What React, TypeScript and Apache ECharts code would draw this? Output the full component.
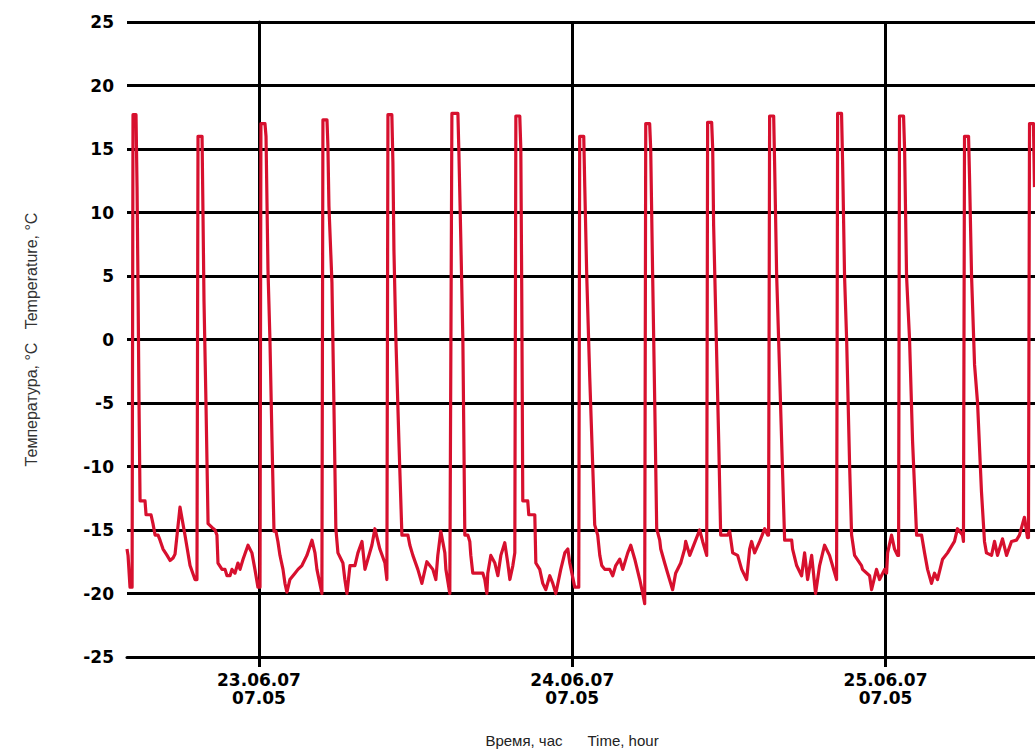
import React, { useEffect, useRef } from "react";
import * as echarts from "echarts";

// Time in hours relative to 23.06.07 07:05
const timeHours: number[] = [
  -10.11, -10.03, -9.88, -9.72, -9.65, -9.42, -9.34, -9.26, -9.19, -9.11,
  -8.73, -8.65, -8.27, -8.12, -7.96, -7.73, -7.58, -7.35, -7.04, -6.81,
  -6.58, -6.43, -6.05, -5.67, -5.28, -4.9, -4.75,
  -4.67, -4.36, -4.29, -4.21, -4.06, -3.9, -3.6, -3.37, -3.22, -3.14,
  -2.83, -2.6, -2.45, -2.22, -2.07, -1.84, -1.61, -1.45, -1.22, -0.84,
  -0.54, -0.31, -0.08, 0.08,
  0.15, 0.46, 0.54, 0.69, 0.84, 1.0, 1.15, 1.3, 1.45, 1.61,
  1.84, 1.99, 2.14, 2.37, 2.76, 2.99, 3.29, 3.67, 4.06, 4.29, 4.44, 4.82,
  4.9, 5.21, 5.28, 5.36, 5.59, 5.74, 5.89, 6.05, 6.43, 6.58,
  6.74, 6.97, 7.35, 7.58, 7.89, 8.12, 8.34, 8.65, 8.88, 9.26, 9.65, 9.8,
  9.88, 10.18, 10.26, 10.34, 10.49, 10.72, 10.95, 11.41, 11.56, 11.79,
  12.17, 12.48, 12.86, 13.32, 13.55, 13.7, 13.93, 14.24, 14.32, 14.62,
  14.78, 15.24, 15.31, 15.46, 15.62, 15.77, 16.0, 16.15, 16.23, 16.38,
  17.15, 17.3, 17.46, 17.53, 17.76, 18.07, 18.3, 18.53, 18.83, 19.06,
  19.22, 19.45, 19.6,
  19.68, 19.98, 20.06, 20.13, 20.21, 20.59, 20.67, 21.13, 21.21, 21.51,
  21.74, 21.97, 22.28, 22.51, 22.74, 23.12, 23.43, 23.66, 23.81, 24.19, 24.5,
  24.57, 24.88, 24.96, 25.11, 25.34, 25.57, 25.72, 25.95, 26.11, 26.26,
  26.49, 26.87, 27.1, 27.33, 27.64, 27.87, 28.25, 28.48, 28.79, 29.17,
  29.4, 29.55,
  29.63, 29.93, 30.01, 30.16, 30.32, 30.47, 30.7, 30.78, 31.08, 31.31,
  31.54, 31.69, 31.92, 32.31, 32.61, 32.69, 33.0, 33.38, 33.76, 33.99, 34.3,
  34.37, 34.68, 34.76, 34.83, 34.99, 35.22, 35.37, 35.91, 36.06, 36.29,
  36.67, 36.98, 37.36, 37.59, 37.74, 37.97, 38.36, 38.74, 38.97, 39.04,
  39.12, 39.43, 39.5, 39.66, 39.81, 40.04, 40.27, 40.81, 40.88, 41.19,
  41.57, 41.8, 42.03, 42.34, 42.64, 42.95, 43.33, 43.71, 44.25,
  44.33, 44.63, 44.71, 44.86, 45.02, 45.25, 45.4, 45.63, 46.16, 46.24,
  46.78, 46.93, 47.31, 47.54, 47.93, 48.08, 48.16, 48.46, 48.69, 48.92, 49.0,
  49.07, 49.38, 49.46, 49.61, 49.84, 50.07, 50.38, 50.76, 50.99, 51.22,
  51.52, 51.75, 51.98, 52.37, 52.75, 53.28, 53.51, 53.9, 53.97,
  54.05, 54.36, 54.43, 54.59, 54.82, 55.05, 55.35, 55.58, 55.73, 56.12,
  56.35, 56.58, 56.96, 57.27, 57.65, 58.03, 58.26, 58.64, 58.87, 58.95,
  59.03, 59.33, 59.41,
];

const temperature: number[] = [
  -16.5, -17, -19.5, -19.5, 17.7, 17.7, 12, 3.5, -5, -12.7,
  -12.7, -13.8, -13.8, -14.5, -15.4, -15.4, -15.8, -16.5, -17.0, -17.4,
  -17.2, -16.9, -13.2, -15.4, -17.8, -18.9, -18.9,
  16, 16, 10, 3, -5, -14.5, -14.8, -15.0, -15.4, -17.6,
  -18.1, -18.1, -18.6, -18.6, -18.1, -18.4, -17.6, -18.1, -17.3, -16.2,
  -16.8, -18.1, -19.5, -19.5,
  17, 17, 16, 5.5, 0, -8, -15.1, -15.1, -15.9, -17,
  -18.1, -19.2, -19.9, -18.9, -18.4, -18.1, -17.8, -17, -15.8, -16.8, -18.1, -20,
  17.3, 17.3, 15.3, 10.5, 4.5, -5, -14.9, -16.8, -17.6, -18.9,
  -20, -17.8, -17.8, -16.8, -15.9, -18.1, -17.3, -16.2, -14.9, -16.5, -17.6, -18.9,
  17.7, 17.7, 14, 7, 0, -8, -15.4, -15.4, -16.2, -17,
  -18.1, -19.2, -17.5, -18.1, -18.9, -17, -15.1, -16.8, -18.1, -20,
  17.8, 17.8, 15, 8, 0, -15.4, -15.4, -15.9, -17, -18.4,
  -18.4, -18.9, -20, -18.4, -17, -17.6, -18.6, -17, -16, -17.6,
  -18.9, -17.8, -16.8,
  17.6, 17.6, 15, 4, -12.7, -12.7, -13.8, -13.8, -17.6, -18.1,
  -19.2, -19.7, -18.6, -19.2, -20, -18.1, -16.8, -16.5, -17.6, -19.5, -19.5,
  16, 16, 12, 5, -3, -10, -14.6, -15.4, -17, -17.8,
  -18.1, -18.1, -18.6, -17.8, -17.3, -18.1, -16.8, -16.2, -17.3, -18.9,
  -20, -20.8,
  17, 17, 15, 5, -5, -14.9, -15.8, -16.5, -17.6, -18.4,
  -19.2, -19.7, -18.4, -17.6, -16.5, -15.9, -17, -16, -15, -15.9, -17,
  17.1, 17.1, 15, 9, 2, -8, -15.4, -15.4, -15.1, -16.8,
  -17, -18.1, -18.9, -16.5, -15.9, -16.8, -15.9, -14.9, -15.4, -15.4,
  17.6, 17.6, 14, 5, 0, -8, -15.8, -15.8, -16.5, -17.8,
  -18.6, -16.8, -18.9, -17, -20, -17.8, -16.2, -17, -18.9,
  17.8, 17.8, 14, 5, 0, -10, -15.4, -17, -17.8, -18.1,
  -18.6, -19.7, -18.1, -18.9, -18.1, -18.4, -16.8, -15.4, -16.5, -17, -17,
  17.6, 17.6, 15, 5, 0, -8, -15.4, -15.4, -16.8, -18.1,
  -19.2, -18.4, -18.9, -17.3, -16.8, -15.9, -14.9, -15.4, -15.9,
  16, 16, 13, 5, -2, -5, -12, -15.9, -16.8, -17,
  -15.9, -17, -15.7, -17, -15.9, -15.8, -15.4, -14, -15.6, -15.6,
  17, 17, 12,
];

const dateTickHours: number[] = [0, 24, 48];
const dateTickLabels: string[] = ["23.06.07\n07.05", "24.06.07\n07.05", "25.06.07\n07.05"];

const yMin = -25;
const yMax = 25;
const yStep = 5;
const xMin = -10.11;
const xMax = 59.45;

const yTitle = "Температура, °C\u00a0\u00a0\u00a0Temperature, °C";
const xTitle = "Время, час\u00a0\u00a0\u00a0\u00a0\u00a0\u00a0Time, hour";

export default function App() {
  const ref = useRef<HTMLDivElement>(null);

  useEffect(() => {
    if (!ref.current) return;
    const chart = echarts.init(ref.current, null, { renderer: "svg" });
    const data = timeHours.map((t, i) => [t, temperature[i]]);
    const labelFont = "'DejaVu Sans', 'Liberation Sans', Arial, sans-serif";
    chart.setOption({
      animation: false,
      backgroundColor: "#ffffff",
      grid: {
        left: 127,
        right: 0,
        top: 22,
        bottom: 94,
        containLabel: false,
        outerBoundsMode: "none",
      },
      xAxis: {
        type: "value",
        min: xMin,
        max: xMax,
        name: xTitle,
        nameLocation: "middle",
        nameGap: 75,
        nameTextStyle: {
          fontSize: 15,
          lineHeight: 16,
          color: "#222",
          fontFamily: "'Liberation Sans', Arial, sans-serif",
          padding: [0, 18, 0, 0],
        },
        axisLine: { show: true, onZero: false, lineStyle: { color: "#000", width: 3 } },
        axisTick: {
          show: true,
          customValues: dateTickHours,
          length: 10,
          lineStyle: { color: "#000", width: 3 },
        },
        splitLine: { show: true, lineStyle: { color: "#000", width: 3 } },
        axisLabel: {
          customValues: dateTickHours,
          formatter: (v: number) => {
            const idx = dateTickHours.findIndex((d) => Math.abs(d - v) < 1e-6);
            return idx >= 0 ? dateTickLabels[idx] : "";
          },
          fontSize: 17,
          fontWeight: "bold",
          fontFamily: labelFont,
          color: "#000",
          lineHeight: 18,
          margin: 14,
        },
      },
      yAxis: {
        type: "value",
        min: yMin,
        max: yMax,
        interval: yStep,
        name: yTitle,
        nameLocation: "middle",
        nameGap: 88,
        nameTextStyle: {
          fontSize: 16,
          color: "#333",
          fontFamily: "'Liberation Sans', Arial, sans-serif",
        },
        axisLine: { show: true, lineStyle: { color: "#000", width: 3 } },
        axisTick: { show: true, length: 8, lineStyle: { color: "#000", width: 3 } },
        splitLine: { show: true, lineStyle: { color: "#000", width: 3 } },
        axisLabel: {
          fontSize: 17,
          fontWeight: "bold",
          fontFamily: labelFont,
          color: "#000",
          margin: 13,
        },
      },
      series: [
        {
          type: "line",
          data,
          showSymbol: false,
          symbol: "none",
          clip: true,
          lineStyle: { color: "#d7102e", width: 3.2, join: "round" },
          z: 5,
        },
      ],
    });
    return () => chart.dispose();
  }, []);

  return (
    <div
      ref={ref}
      style={{ position: "fixed", left: 0, top: 0, width: 1035, height: 751, background: "#fff" }}
    />
  );
}
